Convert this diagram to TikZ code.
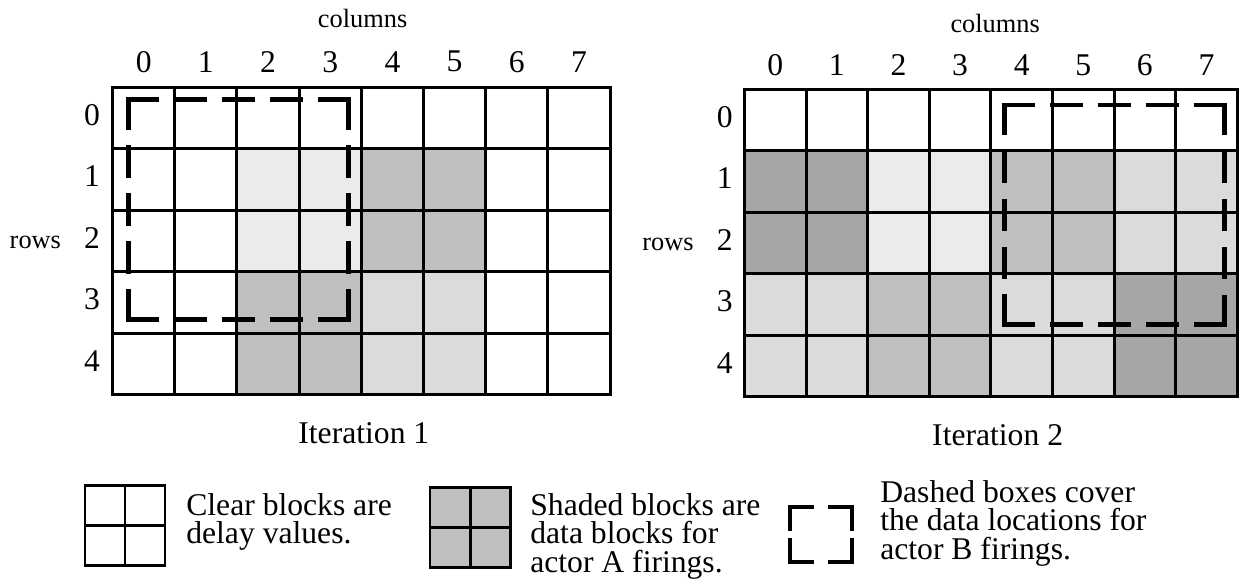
\documentclass[tikz,border=0pt]{standalone}
\usepackage{fontspec}
\setmainfont{Liberation Serif}
\usetikzlibrary{positioning}

\begin{document}
\begin{tikzpicture}[
    x=0.02cm, y=-0.02cm,
    gridline/.style={line width=1.7pt, line cap=rect},
    vlite/.style={fill=gray!16},
    lite/.style={fill=gray!28},
    mid/.style={fill=gray!50},
    dark/.style={fill=gray!70},
    bdash/.style={line width=2.8pt, line cap=rect,
      dash pattern=on 0.56cm off 0.4cm},
    bline/.style={line width=2.8pt, line cap=rect},
    lbl/.style={font=\fontsize{18}{16}\selectfont, inner sep=0pt},
    axis/.style={font=\fontsize{15}{15}\selectfont, inner sep=0pt},
    legtxt/.style={font=\fontsize{18}{16.2}\selectfont, align=left,
      inner sep=0pt, anchor=west}
  ]
  \useasboundingbox (0,0) rectangle (1240,586);

  % --- Iteration 1 ---
  \begin{scope}[shift={(112.6,87)}, x=1.244cm, y=-1.232cm]
    \foreach \c/\r/\s in {2/1/vlite, 4/1/mid, 2/3/mid, 4/3/lite}
      \fill[\s] (\c,\r) rectangle ++(2,2);
    \foreach \c in {0,...,8} \draw[gridline] (\c,0) -- (\c,5);
    \foreach \r in {0,...,5} \draw[gridline] (0,\r) -- (8,\r);

    \foreach \c in {0,...,7}
      \node[lbl] (ca\c) at (\c+0.5,-0.41) {\c};
    \foreach \r in {0,...,4}
      \node[lbl] (ra\r) at (-0.33,\r+0.45) {\r};
    \node[axis] (colsA) at (4.02,-1.12) {columns};
    \node[axis, anchor=base east] (rowsA) at ([xshift=-0.45cm]ra2.base west) {rows};
    \node[lbl] (iterA) at (4.04,5.62) {Iteration 1};

    % actor B window (sides 4.4cm)
    \coordinate (a1) at (0.25,0.2);
    \coordinate (a3) at (3.787,3.771);
    \draw[bdash] (a1) -- (a1 -| a3);
    \draw[bdash] (a1 -| a3) -- (a3);
    \draw[bdash] (a3) -- (a3 -| a1);
    \draw[bdash] (a3 -| a1) -- (a1);
  \end{scope}

  % --- Iteration 2 ---
  \begin{scope}[shift={(744.5,89)}, x=1.232cm, y=-1.232cm]
    \foreach \c/\r/\s in {0/1/dark, 2/1/vlite, 4/1/mid, 6/1/lite,
                          0/3/lite, 2/3/mid, 4/3/lite, 6/3/dark}
      \fill[\s] (\c,\r) rectangle ++(2,2);
    \foreach \c in {0,...,8} \draw[gridline] (\c,0) -- (\c,5);
    \foreach \r in {0,...,5} \draw[gridline] (0,\r) -- (8,\r);

    \foreach \c in {0,...,7}
      \node[lbl] (cb\c) at (\c+0.5,-0.39) {\c};
    \foreach \r in {0,...,4}
      \node[lbl] (rb\r) at (-0.32,\r+0.45) {\r};
    \node[axis] (colsB) at (4.07,-1.07) {columns};
    \node[axis, anchor=base east] (rowsB) at ([xshift=-0.45cm]rb2.base west) {rows};
    \node[lbl] (iterB) at (4.11,5.62) {Iteration 2};

    % actor B window (sides 4.4cm)
    \coordinate (b1) at (4.22,0.26);
    \coordinate (b3) at (7.791,3.831);
    \draw[bdash] (b1) -- (b1 -| b3);
    \draw[bdash] (b1 -| b3) -- (b3);
    \draw[bdash] (b3) -- (b3 -| b1);
    \draw[bdash] (b3 -| b1) -- (b1);
  \end{scope}

  % --- Legend ---
  \draw[gridline] (85,485) rectangle (165,565)
    (125,485) -- (125,565) (85,525) -- (165,525);
  \node[legtxt] (keyA) at (186,522) {Clear blocks are\\delay values.};

  \fill[mid] (430,487) rectangle (510,567);
  \draw[gridline] (430,487) rectangle (510,567)
    (470,487) -- (470,567) (430,527) -- (510,527);
  \node[legtxt] (keyB) at (530,536) {Shaded blocks are\\data blocks for\\actor A firings.};

  \draw[bline] (790,529) -- (790,507) -- (812,507);
  \draw[bline] (830,507) -- (852,507) -- (852,529);
  \draw[bline] (852,540) -- (852,562) -- (830,562);
  \draw[bline] (812,562) -- (790,562) -- (790,540);
  \node[legtxt] (keyC) at (880,523) {Dashed boxes cover\\the data locations for\\actor B firings.};
\end{tikzpicture}
\end{document}
